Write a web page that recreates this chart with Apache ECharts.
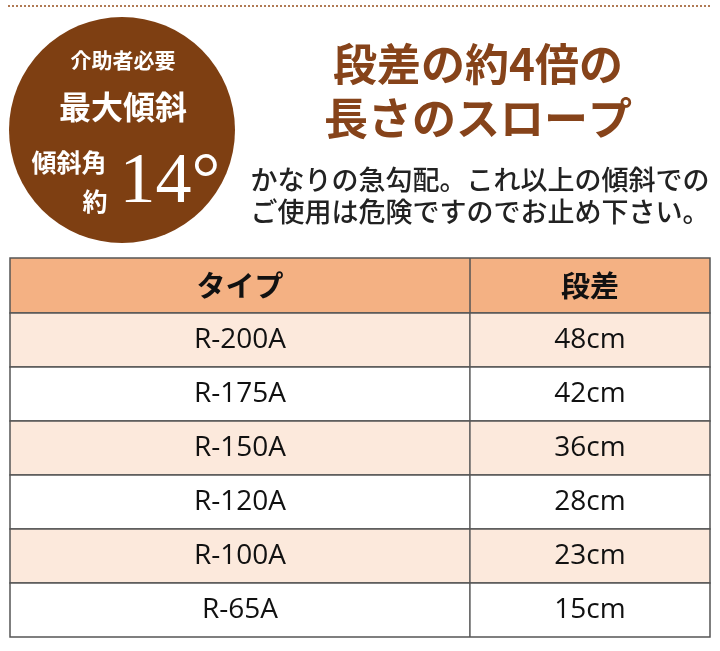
<!DOCTYPE html>
<html><head><meta charset="utf-8">
<script src="https://cdn.jsdelivr.net/npm/echarts@6/dist/echarts.min.js"></script>
<style>html,body{margin:0;padding:0;background:#fff}#c{width:720px;height:651px}</style>
</head><body><div id="c"></div>
<script>
var types = ['R-200A', 'R-175A', 'R-150A', 'R-120A', 'R-100A', 'R-65A'];
var heights = [48, 42, 36, 28, 23, 15];
var headers = ['タイプ', '段差'];

var JP = '"Noto Sans CJK JP", sans-serif';
var brown = '#86431a';
var split = 0.657;

var chart = echarts.init(document.getElementById('c'));
chart.setOption({
    backgroundColor: '#fff',
    animation: false,
    grid: { left: 10, right: 10, top: 313, bottom: 14 },
    xAxis: { type: 'value', min: 0, max: 1, show: false },
    yAxis: { type: 'category', data: types, inverse: true, show: false },
    graphic: [
        // 上部の点線
        { type: 'line', shape: { x1: 8, y1: 6, x2: 712, y2: 6 },
          style: { stroke: '#b07a55', lineWidth: 2, lineDash: [2, 2] } },
        { type: 'circle', shape: { cx: 122, cy: 130, r: 113 }, style: { fill: '#7e3f12' } },
        { type: 'text', x: 123, y: 60, style: { text: '介助者必要', fill: '#fff', font: 'bold 21px ' + JP, align: 'center', verticalAlign: 'middle' } },
        { type: 'text', x: 123, y: 107, style: { text: '最大傾斜', fill: '#fff', font: 'bold 32px ' + JP, align: 'center', verticalAlign: 'middle' } },
        { type: 'text', x: 69, y: 162, style: { text: '傾斜角', fill: '#fff', font: 'bold 25px ' + JP, align: 'center', verticalAlign: 'middle' } },
        { type: 'text', x: 95, y: 201, style: { text: '約', fill: '#fff', font: 'bold 25px ' + JP, align: 'center', verticalAlign: 'middle' } },
        { type: 'text', x: 170, y: 183, style: { text: '14°', fill: '#fff', font: '72px "Liberation Serif", serif', align: 'center', verticalAlign: 'middle' } },
        { type: 'text', x: 478, y: 64, style: { text: '段差の約4倍の', fill: brown, font: 'bold 44px ' + JP, align: 'center', verticalAlign: 'middle' } },
        { type: 'text', x: 478, y: 118, style: { text: '長さのスロープ', fill: brown, font: 'bold 44px ' + JP, align: 'center', verticalAlign: 'middle' } },
        { type: 'text', x: 480, y: 180, style: { text: 'かなりの急勾配。これ以上の傾斜での', fill: '#222', font: '500 27px ' + JP, align: 'center', verticalAlign: 'middle' } },
        { type: 'text', x: 480, y: 212, style: { text: 'ご使用は危険ですのでお止め下さい。', fill: '#222', font: '500 27px ' + JP, align: 'center', verticalAlign: 'middle' } },
        // ヘッダー
        { type: 'rect', shape: { x: 10, y: 258, width: 700, height: 55 }, style: { fill: '#f4b183', stroke: '#555', lineWidth: 1.5 } },
        { type: 'line', shape: { x1: 470, y1: 258, x2: 470, y2: 313 }, style: { stroke: '#555', lineWidth: 1.5 } },
        { type: 'text', x: 240, y: 286, style: { text: headers[0], fill: '#111', font: 'bold 29px ' + JP, align: 'center', verticalAlign: 'middle' } },
        { type: 'text', x: 590, y: 286, style: { text: headers[1], fill: '#111', font: 'bold 29px ' + JP, align: 'center', verticalAlign: 'middle' } }
    ],
    series: [{
        type: 'custom',
        data: types.map(function(t, i) { return [i, heights[i]]; }),
        renderItem: function(params, api) {
            var i = api.value(0);
            var p0 = api.coord([0, i]);
            var p1 = api.coord([1, i]);
            var pm = api.coord([split, i]);
            var h = api.size([0, 1])[1];
            var top = p0[1] - h / 2;
            var fill = i % 2 === 0 ? '#fce9dc' : '#fff';
            var font = '28px "Open Sans", ' + JP;
            return {
                type: 'group',
                children: [
                    { type: 'rect', shape: { x: p0[0], y: top, width: p1[0] - p0[0], height: h },
                      style: { fill: fill, stroke: '#555', lineWidth: 1.5 } },
                    { type: 'line', shape: { x1: pm[0], y1: top, x2: pm[0], y2: top + h },
                      style: { stroke: '#555', lineWidth: 1.5 } },
                    { type: 'text', x: (p0[0] + pm[0]) / 2, y: p0[1],
                      style: { text: types[i], fill: '#111', font: font, align: 'center', verticalAlign: 'middle' } },
                    { type: 'text', x: (pm[0] + p1[0]) / 2, y: p0[1],
                      style: { text: api.value(1) + 'cm', fill: '#111', font: font, align: 'center', verticalAlign: 'middle' } }
                ]
            };
        }
    }]
});
</script></body></html>
